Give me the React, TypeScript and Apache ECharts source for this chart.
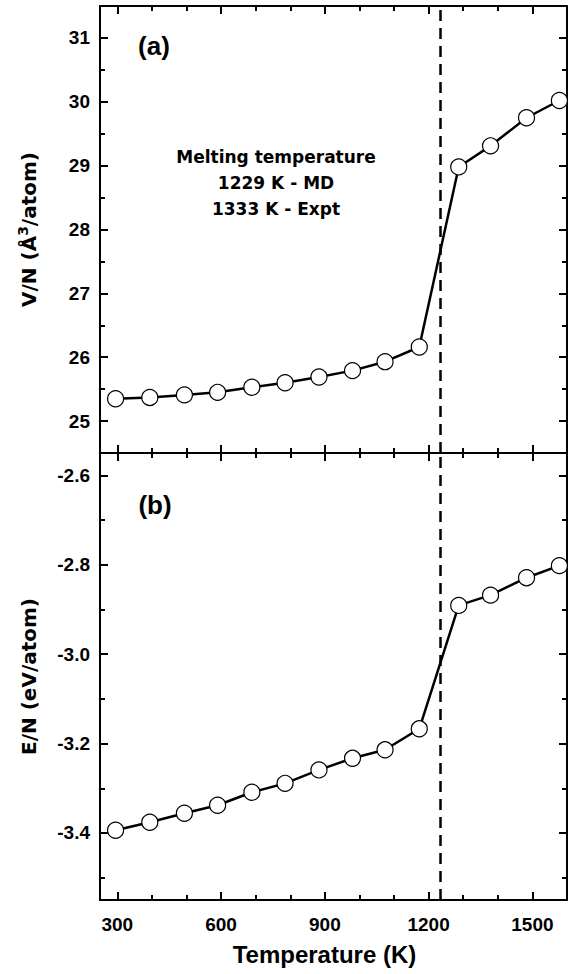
import React, { useEffect, useRef } from "react";
import * as echarts from "echarts";

const temps = [295, 394, 494, 590, 689, 785, 883, 980, 1074, 1173, 1287, 1379, 1483, 1578];
const volume = [25.35, 25.37, 25.41, 25.45, 25.53, 25.6, 25.69, 25.79, 25.93, 26.16, 28.98, 29.31, 29.75, 30.02];
const energy = [-3.394, -3.376, -3.356, -3.338, -3.309, -3.289, -3.259, -3.233, -3.214, -3.167, -2.891, -2.868, -2.829, -2.802];
const meltLine = 1235;

const xMajor = [300, 600, 900, 1200, 1500];
const xMinor = [400, 500, 700, 800, 1000, 1100, 1300, 1400];
const vMajor = [25, 26, 27, 28, 29, 30, 31];
const vMinor = [25.5, 26.5, 27.5, 28.5, 29.5, 30.5];
const eMajor = [-3.4, -3.2, -3.0, -2.8, -2.6];
const eMinor = [-3.5, -3.3, -3.1, -2.9, -2.7];

const FONT = "Liberation Sans, Arial, sans-serif";
const WIDE = "DejaVu Sans, sans-serif";

export default function App() {
  const ref = useRef<HTMLDivElement>(null);
  useEffect(() => {
    const chart = echarts.init(ref.current!, null, { renderer: "svg" });
    const axisLine = { show: true, lineStyle: { color: "#000", width: 2 } };
    const mkX = (grid: number, pos: string, values: number[], len: number, labels: boolean, line: boolean, name?: string) => ({
      type: "value",
      gridIndex: grid,
      position: pos,
      min: 250,
      max: 1600,
      axisLine: line ? axisLine : { show: false },
      splitLine: { show: false },
      axisTick: { show: true, inside: true, length: len, customValues: values, lineStyle: { color: "#000", width: 2 } },
      axisLabel: labels
        ? {
            show: true,
            customValues: values,
            margin: 15,
            fontSize: 19,
            fontWeight: "bold",
            fontFamily: FONT,
            color: "#000",
            formatter: (v: number) => String(v),
          }
        : { show: false },
      name: name,
      nameLocation: "middle",
      nameGap: 42,
      nameTextStyle: { fontSize: 24, fontWeight: "bold", fontFamily: FONT, color: "#000", padding: [0, 18, 0, 0] },
    });
    const mkY = (grid: number, pos: string, min: number, max: number, values: number[], len: number, labels: boolean, line: boolean, dec: number, name?: string) => ({
      type: "value",
      gridIndex: grid,
      position: pos,
      min,
      max,
      axisLine: line ? axisLine : { show: false },
      splitLine: { show: false },
      axisTick: { show: true, inside: true, length: len, customValues: values, lineStyle: { color: "#000", width: 2 } },
      axisLabel: labels
        ? {
            show: true,
            customValues: values,
            margin: 10,
            fontSize: 19,
            fontWeight: "bold",
            fontFamily: FONT,
            color: "#000",
            formatter: (v: number) => v.toFixed(dec),
          }
        : { show: false },
      name: name,
      nameLocation: "middle",
      nameGap: 58,
      nameRotate: 90,
      nameTextStyle: {
        fontSize: 20,
        fontWeight: "bold",
        fontFamily: WIDE,
        color: "#000",
        lineHeight: 26,
        rich: {
          sup: { fontSize: 14, fontWeight: "bold", fontFamily: WIDE, color: "#000", verticalAlign: "top", lineHeight: 14 },
        },
      },
    });
    const seriesStyle = {
      type: "line",
      symbol: "circle",
      symbolSize: 16,
      lineStyle: { color: "#000", width: 2.5 },
      itemStyle: { color: "#fff", borderColor: "#000", borderWidth: 1.2 },
      z: 5,
    };
    const markLine = {
      silent: true,
      symbol: "none",
      label: { show: false },
      lineStyle: { color: "#000", width: 2.5, type: [11, 7] },
      data: [{ xAxis: meltLine }],
    };
    chart.setOption({
      animation: false,
      backgroundColor: "#fff",
      grid: [
        { left: 100, top: 6, width: 467, height: 447 },
        { left: 100, top: 453, width: 467, height: 447 },
      ],
      xAxis: [
        mkX(0, "bottom", xMajor, 8, false, true),
        mkX(0, "bottom", xMinor, 5, false, false),
        mkX(0, "top", xMajor, 8, false, true),
        mkX(0, "top", xMinor, 5, false, false),
        mkX(1, "bottom", xMajor, 8, true, true, "Temperature (K)"),
        mkX(1, "bottom", xMinor, 5, false, false),
        mkX(1, "top", xMajor, 8, false, true),
        mkX(1, "top", xMinor, 5, false, false),
      ],
      yAxis: [
        mkY(0, "left", 24.5, 31.5, vMajor, 8, true, true, 0, "V/N (Å{sup|3}/atom)"),
        mkY(0, "left", 24.5, 31.5, vMinor, 5, false, false, 0),
        mkY(0, "right", 24.5, 31.5, vMajor, 8, false, true, 0),
        mkY(0, "right", 24.5, 31.5, vMinor, 5, false, false, 0),
        mkY(1, "left", -3.55, -2.55, eMajor, 8, true, true, 1, "E/N (eV/atom)"),
        mkY(1, "left", -3.55, -2.55, eMinor, 5, false, false, 1),
        mkY(1, "right", -3.55, -2.55, eMajor, 8, false, true, 1),
        mkY(1, "right", -3.55, -2.55, eMinor, 5, false, false, 1),
      ],
      graphic: [
        { type: "text", x: 154, y: 46, style: { text: "(a)", fontSize: 26, fontWeight: "bold", fontFamily: FONT, fill: "#000", align: "center", verticalAlign: "middle" } },
        { type: "text", x: 155, y: 505, style: { text: "(b)", fontSize: 26, fontWeight: "bold", fontFamily: FONT, fill: "#000", align: "center", verticalAlign: "middle" } },
        {
          type: "text",
          x: 276,
          y: 183,
          style: {
            text: "Melting temperature\n1229 K - MD\n1333 K - Expt",
            fontSize: 17,
            fontWeight: "bold",
            fontFamily: WIDE,
            fill: "#000",
            lineHeight: 26,
            align: "center",
            verticalAlign: "middle",
          },
        },
      ],
      series: [
        { ...seriesStyle, xAxisIndex: 0, yAxisIndex: 0, data: temps.map((t, i) => [t, volume[i]]), markLine },
        { ...seriesStyle, xAxisIndex: 4, yAxisIndex: 4, data: temps.map((t, i) => [t, energy[i]]), markLine },
      ],
    });
    return () => chart.dispose();
  }, []);
  return <div ref={ref} style={{ position: "fixed", left: 0, top: 0, width: 572, height: 974 }} />;
}
